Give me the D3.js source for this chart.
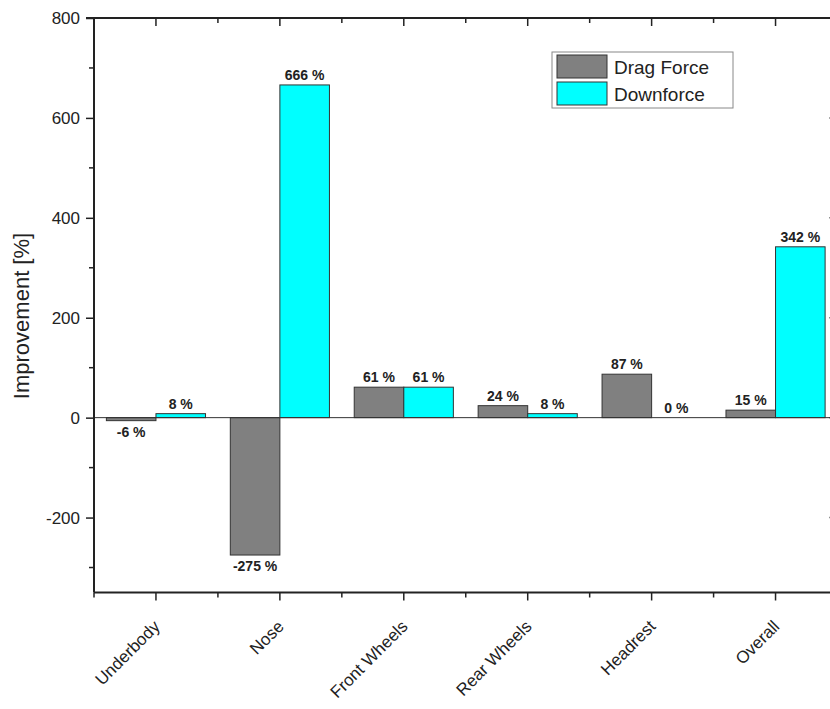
<!DOCTYPE html>
<html>
<head>
<meta charset="utf-8">
<script src="https://cdn.jsdelivr.net/npm/d3@7"></script>
<style>
  html, body { margin: 0; padding: 0; background: #fff; }
  svg { display: block; font-family: "Liberation Sans", Arial, sans-serif; }
</style>
</head>
<body>
<svg id="chart" width="830" height="709"></svg>
<script>
const categories = ["Underbody", "Nose", "Front Wheels", "Rear Wheels", "Headrest", "Overall"];
const seriesNames = ["Drag Force", "Downforce"];
const dragForce = [-6, -275, 61, 24, 87, 15];
const downforce = [8, 666, 61, 8, 0, 342];
const yTicks = [-200, 0, 200, 400, 600, 800];
const yMinorTicks = [-300, -100, 100, 300, 500, 700];
const colors = ["#808080", "#00FFFF"];

const svg = d3.select("#chart");
const pLeft = 94, pRight = 837.5, pTop = 18, pBottom = 592.5;

const y = d3.scaleLinear().domain([-350, 800]).range([pBottom, pTop]);
const x = d3.scaleBand().domain(categories).range([pLeft, pRight]).padding(0);
const bw = x.bandwidth();
const xs = d3.scaleBand().domain(seriesNames).range([0.1 * bw, 0.9 * bw]).padding(0);

const data = categories.map((c, i) => ({ cat: c, vals: [dragForce[i], downforce[i]] }));

// bars
const g = svg.append("g");
data.forEach(d => {
  d.vals.forEach((v, j) => {
    const x0 = x(d.cat) + xs(seriesNames[j]);
    g.append("rect")
      .attr("x", x0)
      .attr("y", Math.min(y(v), y(0)))
      .attr("width", xs.bandwidth())
      .attr("height", Math.abs(y(v) - y(0)))
      .attr("fill", colors[j])
      .attr("stroke", "#333")
      .attr("stroke-width", 1);
    g.append("text")
      .attr("x", x0 + xs.bandwidth() / 2)
      .attr("y", v >= 0 ? y(v) - 5 : y(v) + 16)
      .attr("text-anchor", "middle")
      .attr("font-size", 14)
      .attr("font-weight", "bold")
      .attr("fill", "#222")
      .text(v + " %");
  });
});

// zero line
svg.append("line")
  .attr("x1", pLeft).attr("x2", pRight)
  .attr("y1", y(0)).attr("y2", y(0))
  .attr("stroke", "#333").attr("stroke-width", 1);

const axisColor = "#222";
// left axis
const yAxis = d3.axisLeft(y).tickValues(yTicks).tickSize(8).tickPadding(6).tickFormat(d => String(d));
const gy = svg.append("g").attr("transform", `translate(${pLeft},0)`).call(yAxis);
gy.select(".domain").attr("stroke", axisColor).attr("stroke-width", 2).attr("d", `M0,${pTop}V${pBottom}`);
gy.selectAll(".tick line").attr("stroke", axisColor).attr("stroke-width", 1.5);
gy.selectAll(".tick text").attr("font-size", 17).attr("fill", "#222").attr("font-family", "Liberation Sans, Arial, sans-serif");
gy.selectAll(".minor").data(yMinorTicks).enter().append("line")
  .attr("x1", -5).attr("x2", 0).attr("y1", d => y(d)).attr("y2", d => y(d))
  .attr("stroke", axisColor).attr("stroke-width", 1.5);

// right axis (ticks inward)
const gr = svg.append("g").attr("transform", `translate(${pRight},0)`);
gr.append("line").attr("x1", 0).attr("x2", 0).attr("y1", pTop).attr("y2", pBottom).attr("stroke", axisColor).attr("stroke-width", 2);
gr.selectAll(".t").data(yTicks.concat(yMinorTicks)).enter().append("line")
  .attr("x1", d => yTicks.includes(d) ? -8 : -5).attr("x2", 0)
  .attr("y1", d => y(d)).attr("y2", d => y(d))
  .attr("stroke", axisColor).attr("stroke-width", 1.5);

// bottom axis
const xAxis = d3.axisBottom(x).tickSize(8).tickFormat("");
const gx = svg.append("g").attr("transform", `translate(0,${pBottom})`).call(xAxis);
gx.select(".domain").attr("stroke", axisColor).attr("stroke-width", 2).attr("d", `M${pLeft},0H${pRight}`);
gx.selectAll(".tick line").attr("stroke", axisColor).attr("stroke-width", 1.5);
const bounds = categories.map(c => x(c)).concat([pRight]);
gx.selectAll(".minor").data(bounds).enter().append("line")
  .attr("x1", d => d).attr("x2", d => d).attr("y1", 0).attr("y2", 5)
  .attr("stroke", axisColor).attr("stroke-width", 1.5);
gx.selectAll(".lbl").data(categories).enter().append("text")
  .attr("transform", d => `translate(${x(d) + bw / 2 + 5},${35}) rotate(-45)`)
  .attr("text-anchor", "end")
  .attr("font-size", 17)
  .attr("fill", "#222")
  .text(d => d);

// top axis (ticks inward)
const gt = svg.append("g").attr("transform", `translate(0,${pTop})`);
gt.append("line").attr("x1", pLeft - 8).attr("x2", pRight).attr("y1", 0).attr("y2", 0).attr("stroke", axisColor).attr("stroke-width", 2);
gt.selectAll(".maj").data(categories).enter().append("line")
  .attr("x1", d => x(d) + bw / 2).attr("x2", d => x(d) + bw / 2).attr("y1", 0).attr("y2", 8)
  .attr("stroke", axisColor).attr("stroke-width", 1.5);
gt.selectAll(".min").data(bounds.slice(1)).enter().append("line")
  .attr("x1", d => d).attr("x2", d => d).attr("y1", 0).attr("y2", 5)
  .attr("stroke", axisColor).attr("stroke-width", 1.5);

// y title
svg.append("text")
  .attr("transform", `translate(29,316) rotate(-90)`)
  .attr("text-anchor", "middle")
  .attr("font-size", 22)
  .attr("fill", "#222")
  .text("Improvement [%]");

// legend
const lg = svg.append("g").attr("transform", "translate(552,52)");
lg.append("rect").attr("width", 181).attr("height", 56).attr("fill", "#fff").attr("stroke", "#888").attr("stroke-width", 1);
seriesNames.forEach((s, i) => {
  lg.append("rect").attr("x", 5).attr("y", 3 + i * 27).attr("width", 50).attr("height", 23)
    .attr("fill", colors[i]).attr("stroke", "#333").attr("stroke-width", 1);
  lg.append("text").attr("x", 62).attr("y", 22 + i * 27).attr("font-size", 19).attr("fill", "#222").text(s);
});
</script>
</body>
</html>
